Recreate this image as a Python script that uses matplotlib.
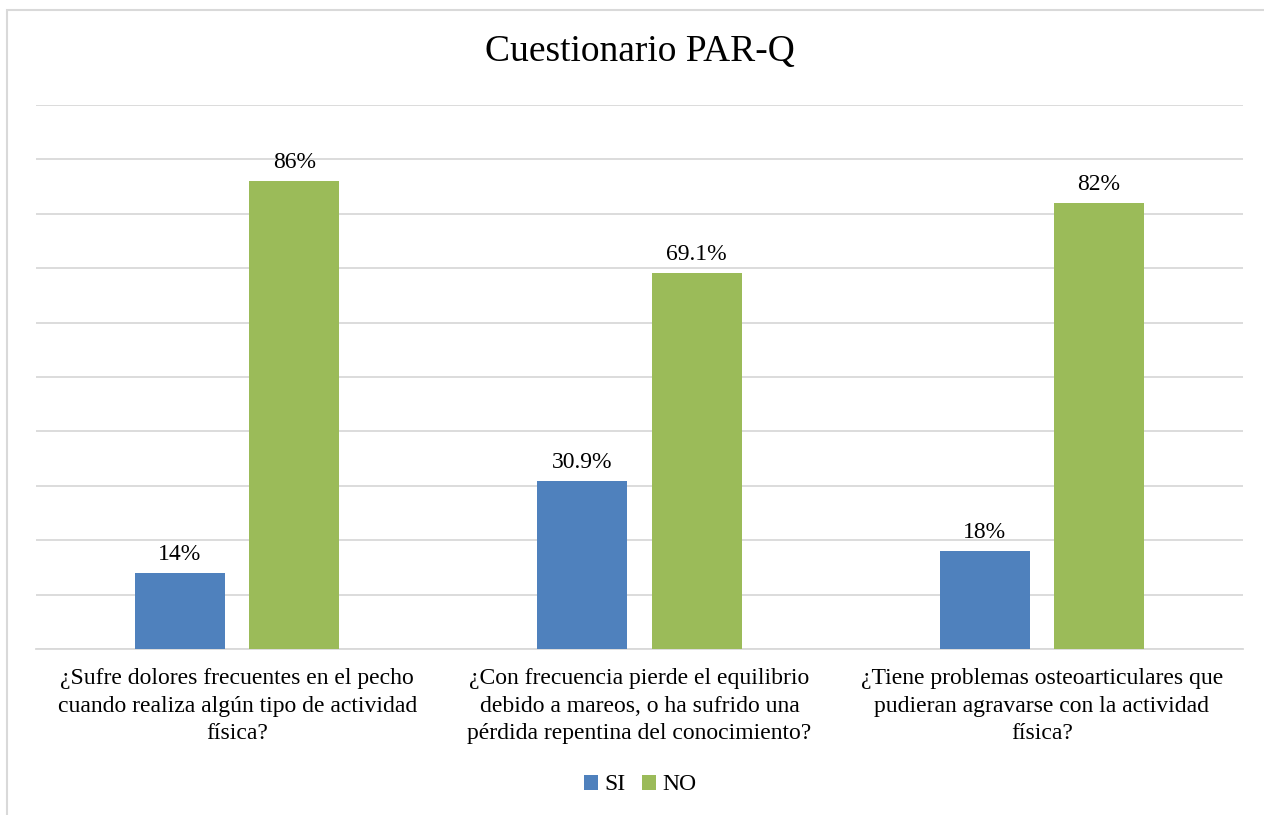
import matplotlib
matplotlib.use("Agg")
import matplotlib.pyplot as plt
from matplotlib.patches import Rectangle
import numpy as np

plt.rcParams['font.family'] = ['Liberation Serif', 'DejaVu Serif']

categories = [
    "¿Sufre dolores frecuentes en el pecho\ncuando realiza algún tipo de actividad\nfísica?",
    "¿Con frecuencia pierde el equilibrio\ndebido a mareos, o ha sufrido una\npérdida repentina del conocimiento?",
    "¿Tiene problemas osteoarticulares que\npudieran agravarse con la actividad\nfísica?",
]
si_values = [14, 30.9, 18]
no_values = [86, 69.1, 82]
si_labels = ["14%", "30.9%", "18%"]
no_labels = ["86%", "69.1%", "82%"]

BLUE = "#4F81BD"
GREEN = "#9BBB59"
GRID = "#D9D9D9"

W, H = 1264, 815
fig = plt.figure(figsize=(W / 100, H / 100), dpi=100)

# outer chart frame
fig.add_artist(Rectangle((6.5 / W, -0.05), 1.2, 1 - 9.5 / H + 0.05,
                         transform=fig.transFigure, fill=False,
                         edgecolor=GRID, linewidth=1.5))

ax = fig.add_axes([36 / W, 1 - 649 / H, 1207 / W, (649 - 105) / H])

x = np.arange(len(categories))
bw = 0.224
off = 0.142
b1 = ax.bar(x - off, si_values, bw, color=BLUE, label="SI", zorder=3)
b2 = ax.bar(x + off, no_values, bw, color=GREEN, label="NO", zorder=3)

for bars, labels in ((b1, si_labels), (b2, no_labels)):
    for rect, lab in zip(bars, labels):
        ax.annotate(lab, (rect.get_x() + rect.get_width() / 2, rect.get_height()),
                    xytext=(0, 6), textcoords="offset points",
                    ha="center", va="bottom", fontsize=17, color="#000000")

ax.set_xlim(-0.5, 2.5)
ax.set_ylim(0, 100)
ax.set_yticks(np.arange(0, 101, 10))
ax.yaxis.grid(True, color=GRID, linewidth=1.3, zorder=0)
ax.tick_params(axis="y", left=False, labelleft=False)
ax.tick_params(axis="x", length=0, pad=14)
ax.set_xticks(x)
ax.set_xticklabels(categories, fontsize=17, linespacing=1.4)
for s in ("top", "left", "right"):
    ax.spines[s].set_visible(False)
ax.spines["bottom"].set_color(GRID)
ax.spines["bottom"].set_linewidth(1.3)
ax.set_facecolor("none")

fig.text(640 / W, 1 - 52 / H, "Cuestionario PAR-Q", ha="center", va="center", fontsize=27)

fig.legend(handles=[b1, b2], labels=["SI", "NO"], loc="center",
           bbox_to_anchor=(640 / W, 1 - 785 / H), ncol=2, frameon=False,
           fontsize=17, handlelength=0.6, handleheight=0.6, handletextpad=0.25,
           columnspacing=0.7)

fig.savefig("out.png", dpi=100)
